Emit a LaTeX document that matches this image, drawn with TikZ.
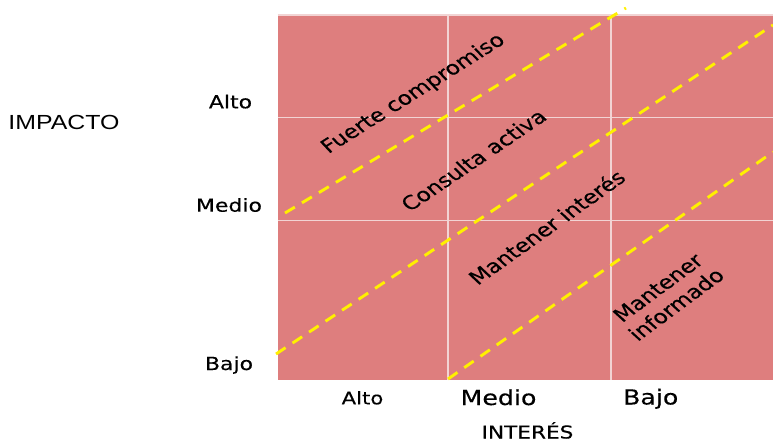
\documentclass[tikz,border=0pt]{standalone}
\usepackage{fontspec}
\setmainfont[FakeBold=0.3]{DejaVu Sans}
\newfontfamily\arialfont{Liberation Sans}
\definecolor{cellfill}{RGB}{222,126,126}
\definecolor{gridline}{RGB}{242,212,212}
\definecolor{zoneline}{RGB}{255,240,0}
\begin{document}
\begin{tikzpicture}[x=1pt,y=-1pt,
  lbl/.style={inner sep=0pt, xscale=1.22, font=\fontsize{18}{20}\selectfont},
  biglbl/.style={inner sep=0pt, xscale=1.22, font=\fontsize{20.7}{22}\selectfont},
  zone/.style={inner sep=0pt, xscale=1.22, font=\fontsize{19}{22.5}\selectfont, align=center},
  gridstroke/.style={draw=gridline, line width=1.3pt},
  zoneborder/.style={draw=zoneline, line width=2.9pt, dash pattern=on 11.5pt off 8.3pt}]
\useasboundingbox (0,0) rectangle (773,441);
% matrix background
\fill[cellfill] (277.5,15) rectangle (773,380);
\draw[gridstroke] (277.5,15) -- (773,15);
\draw[gridstroke] (448,15) -- (448,380);
\draw[gridstroke] (611,15) -- (611,380);
\draw[gridstroke] (277.5,117.5) -- (773,117.5);
\draw[gridstroke] (277.5,220.5) -- (773,220.5);
% zone borders
\coordinate (z1a) at (285,213);
\coordinate (z1b) at (626,8);
\coordinate (z2a) at (276,354);
\coordinate (z2b) at (773,25);
\coordinate (z3a) at (448,379);
\coordinate (z3b) at (773,152);
\draw[zoneborder] (z1a) -- (z1b);
\draw[zoneborder] (z2a) -- (z2b);
\draw[zoneborder] (z3a) -- (z3b);
% zone labels
\node[zone, rotate=37.5] (fuerte) at (413.5,94) {Fuerte compromiso};
\node[zone, rotate=39.5] (consulta) at (473.5,160) {Consulta activa};
\node[zone, rotate=41] (interes) at (546.5,227) {Mantener interés};
\node[zone, rotate=42, text depth=0pt] (informado) at (667,296) {Mantener\\informado};
% axis labels
\node[inner sep=0pt, anchor=base, xscale=1.22, font=\arialfont\fontsize{20.4}{22}\selectfont] (impacto) at (64,129) {IMPACTO};
\node[lbl, anchor=base] (ialto) at (230.5,108.3) {Alto};
\node[lbl, anchor=base] (imedio) at (229,211.7) {Medio};
\node[lbl, anchor=base] (ibajo) at (229,370) {Bajo};
\node[lbl, anchor=base, font=\fontsize{17.4}{20}\selectfont] (nalto) at (362.5,404.3) {Alto};
\node[biglbl, anchor=base] (nmedio) at (498.5,405) {Medio};
\node[biglbl, anchor=base] (nbajo) at (650.7,404.5) {Bajo};
\node[lbl, anchor=base, font=\fontsize{17.7}{20}\selectfont] (interesaxis) at (527.5,438.5) {INTERÉS};
\end{tikzpicture}
\end{document}
